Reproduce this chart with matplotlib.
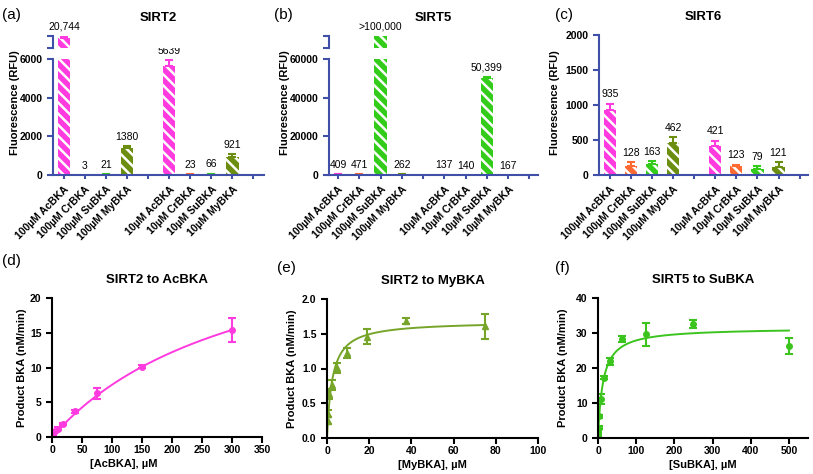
import numpy as np
import matplotlib.pyplot as plt

plt.rcParams['font.family'] = ['Liberation Sans', 'DejaVu Sans']
plt.rcParams['hatch.linewidth'] = 1.8

# ---- data ----
cats = ['100µM AcBKA', '100µM CrBKA', '100µM SuBKA', '100µM MyBKA',
        '10µM AcBKA', '10µM CrBKA', '10µM SuBKA', '10µM MyBKA']
bar_pos = [0, 1, 2, 3, 5, 6, 7, 8]

sirt2_vals = [20744, 3, 21, 1380, 5639, 23, 66, 921]
sirt2_err = [150, 0, 15, 130, 300, 15, 10, 180]
sirt2_lab = ['20,744', '3', '21', '1380', '5639', '23', '66', '921']

sirt5_vals = [409, 471, 100000, 262, 137, 140, 50399, 167]
sirt5_err = [150, 150, 0, 100, 80, 0, 500, 0]
sirt5_lab = ['409', '471', '>100,000', '262', '137', '140', '50,399', '167']

sirt6_vals = [935, 128, 163, 462, 421, 123, 79, 121]
sirt6_err = [85, 55, 40, 80, 70, 25, 45, 65]
sirt6_lab = ['935', '128', '163', '462', '421', '123', '79', '121']

d_x = [1.17, 2.34, 4.69, 9.38, 18.75, 37.5, 75, 150, 300]
d_y = [0.3, 0.55, 0.9, 1.2, 1.9, 3.7, 6.3, 10.1, 15.4]
d_err = [0.1, 0.1, 0.15, 0.2, 0.15, 0.2, 0.8, 0.2, 1.7]
d_vmax, d_km = 32.4, 331

e_x = [0.29, 0.59, 1.17, 2.34, 4.69, 9.38, 18.75, 37.5, 75]
e_y = [0.25, 0.35, 0.63, 0.76, 1.01, 1.22, 1.46, 1.68, 1.61]
e_err = [0.05, 0.05, 0.07, 0.07, 0.07, 0.07, 0.11, 0.04, 0.18]
e_vmax, e_km = 1.68, 2.5

f_x = [0.49, 0.98, 1.95, 3.9, 7.8, 15.6, 31.25, 62.5, 125, 250, 500]
f_y = [1.0, 1.8, 3.0, 6.2, 11.2, 17.2, 22.0, 28.3, 29.7, 32.5, 26.3]
f_err = [0.3, 0.4, 0.5, 0.4, 1.4, 0.4, 1.0, 0.9, 3.3, 1.2, 2.2]
f_vmax, f_km = 31.5, 13

pink = '#ff3adf'
orange = '#ff6a33'
green = '#33cc1a'
olive = '#6b8e10'
bar_cols = [pink, orange, green, olive] * 2
blue = '#4050a8'

W, H = 813, 474
fig = plt.figure(figsize=(8.13, 4.74), dpi=100)


def rect(l, r, t, b):
    return [l / W, 1 - b / H, (r - l) / W, (b - t) / H]


def style_top(ax):
    for s in ['top', 'right']:
        ax.spines[s].set_visible(False)
    for s in ['left', 'bottom']:
        ax.spines[s].set_color(blue)
        ax.spines[s].set_linewidth(1.5)
    ax.tick_params(colors=blue, width=1.5, length=4, labelcolor='black', labelsize=7.5)


def draw_bars(ax, vals, errs):
    for p, v, e, c in zip(bar_pos, vals, errs, bar_cols):
        ax.bar(p, v, width=0.58, color=c, edgecolor='white', hatch='\\\\\\', linewidth=0)
        if e > 0:
            ax.errorbar(p, v, yerr=[[0], [e]], fmt='none', ecolor=c, elinewidth=1.5,
                        capsize=3, capthick=1.5)


def bar_panel(l, r, xlim, vals, errs, labs, ylim, yticks, title, letter, lx,
              high=None):
    if high is not None:
        ax = fig.add_axes(rect(l, r, 59, 175))
        axh = fig.add_axes(rect(l, r, 36, 48))
    else:
        ax = fig.add_axes(rect(l, r, 35, 175))
        axh = None
    draw_bars(ax, vals, errs)
    ax.set_ylim(*ylim)
    ax.set_xlim(*xlim)
    ax.set_yticks(yticks)
    ax.set_yticklabels([str(t) for t in yticks], fontweight='bold')
    ax.set_xticks(range(10))
    ax.set_xticklabels(cats[:4] + [''] + cats[4:] + [''], rotation=45, ha='right',
                       rotation_mode='anchor', fontsize=7.5, fontweight='bold')
    style_top(ax)
    ax.tick_params(axis='x', length=3)
    top_ax = ax
    if axh is not None:
        draw_bars(axh, vals, errs)
        axh.set_ylim(*high)
        axh.set_xlim(*xlim)
        axh.set_yticks(list(high))
        axh.set_yticklabels([])
        axh.set_xticks([])
        style_top(axh)
        axh.spines['bottom'].set_visible(False)
        top_ax = axh
    for p, v, e, t in zip(bar_pos, vals, errs, labs):
        top = v + e
        a = ax
        if axh is not None and top > ylim[1]:
            a = axh
            top = min(top, high[1])
        a.annotate(t, (p, top), xytext=(0, 3), textcoords='offset points',
                   ha='center', va='bottom', fontsize=7.5, annotation_clip=False)
    top_ax.set_title(title, fontsize=9.5, fontweight='bold', pad=11)
    fig.text(lx / W, 1 - 15 / H, letter, fontsize=11, va='center')
    return ax


bar_panel(53, 264, (-0.52, 9.5), sirt2_vals, sirt2_err, sirt2_lab, (0, 6000),
          [0, 2000, 4000, 6000], 'SIRT2', '(a)', 2, high=(20000, 20900))
bar_panel(329, 538, (-0.42, 9.4), sirt5_vals, sirt5_err, sirt5_lab, (0, 60000),
          [0, 20000, 40000, 60000], 'SIRT5', '(b)', 274, high=(95000, 100000))
bar_panel(599, 808, (-0.52, 9.4), sirt6_vals, sirt6_err, sirt6_lab, (0, 2000),
          [0, 500, 1000, 1500, 2000], 'SIRT6', '(c)', 555)

for x in [15, 285, 555]:
    fig.text(x / W, 1 - 103 / H, 'Fluorescence (RFU)', rotation=90, ha='center',
             va='center', fontsize=8, fontweight='bold')


# ---- kinetics ----
def kin_panel(l, r, t, b, xs, ys, errs, vmax, km, col, marker, xlim, xticks,
              ylim, yticks, ylabs, title, xlab, letter, lx, ly, xlab_x):
    ax = fig.add_axes(rect(l, r, t, b))
    xx = np.linspace(0, max(xs), 400)
    ax.plot(xx, vmax * xx / (km + xx), color=col, lw=1.4)
    ax.errorbar(xs, ys, yerr=errs, fmt=marker, color=col, ms=4, elinewidth=1.5,
                capsize=3, capthick=1.5)
    ax.set_xlim(*xlim)
    ax.set_ylim(*ylim)
    ax.set_xticks(xticks)
    ax.set_xticklabels([str(v) for v in xticks], fontweight='bold')
    ax.set_yticks(yticks)
    ax.set_yticklabels(ylabs, fontweight='bold')
    for s in ['top', 'right']:
        ax.spines[s].set_visible(False)
    for s in ['left', 'bottom']:
        ax.spines[s].set_linewidth(1.5)
    ax.tick_params(width=1.5, length=4, labelsize=7.5)
    ax.tick_params(axis='x', pad=2)
    ax.set_title(title, fontsize=9.5, fontweight='bold', pad=11)
    ax.set_xlabel(xlab, fontsize=8, fontweight='bold')
    ax.xaxis.set_label_coords(xlab_x, -0.155)
    ax.set_ylabel('Product BKA (nM/min)', fontsize=8, fontweight='bold')
    fig.text(lx / W, 1 - ly / H, letter, fontsize=11, va='center')
    return ax


ax_d = kin_panel(52, 262, 298, 437, d_x, d_y, d_err, d_vmax, d_km, pink, 'o',
                 (0, 350), list(range(0, 351, 50)), (0, 20), [0, 5, 10, 15, 20],
                 ['0', '5', '10', '15', '20'], 'SIRT2 to AcBKA', '[AcBKA], µM',
                 '(d)', 2, 261, 0.34)
ax_e = kin_panel(327, 538, 299, 438, e_x, e_y, e_err, e_vmax, e_km, '#77a52a', '^',
                 (0, 100), list(range(0, 101, 20)), (0, 2), [0, 0.5, 1, 1.5, 2],
                 ['0.0', '0.5', '1.0', '1.5', '2.0'], 'SIRT2 to MyBKA', '[MyBKA], µM',
                 '(e)', 277, 268, 0.5)
ax_f = kin_panel(598, 808, 298, 438, f_x, f_y, f_err, f_vmax, f_km, '#3cc41e', 'o',
                 (0, 550), list(range(0, 501, 100)), (0, 40), [0, 10, 20, 30, 40],
                 ['0', '10', '20', '30', '40'], 'SIRT5 to SuBKA', '[SuBKA], µM',
                 '(f)', 555, 268, 0.5)
for ax, x in [(ax_d, 27), (ax_e, 297), (ax_f, 568)]:
    bb = ax.get_position()
    ax.yaxis.set_label_coords((x - bb.x0 * W) / (bb.width * W), 0.5)

fig.savefig('out.png', dpi=100)
